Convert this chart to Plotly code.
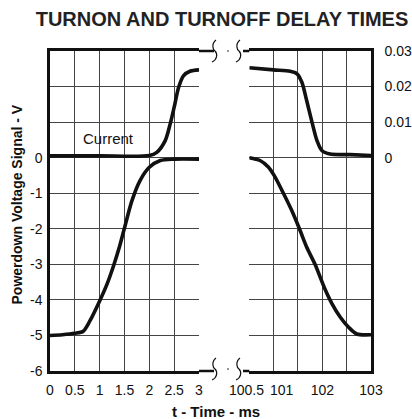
import plotly.graph_objects as go

# Turn-on interval (0 - 3 ms)
t_on = [0, 0.25, 0.5, 0.67, 0.8, 1.0, 1.15, 1.28, 1.4, 1.49, 1.65, 1.81, 2.0, 2.22, 2.5, 3.0]
v_on = [-5.0, -4.98, -4.94, -4.88, -4.6, -4.03, -3.55, -3.04, -2.5, -2.03, -1.21, -0.65, -0.27, -0.08, -0.04, -0.04]
t_on_i = [0, 1.0, 2.0, 2.15, 2.32, 2.42, 2.5, 2.59, 2.69, 2.82, 3.0]
i_on = [0.0005, 0.0005, 0.0006, 0.0015, 0.0048, 0.0095, 0.0142, 0.0198, 0.0231, 0.0243, 0.0247]

# Turn-off interval (100.5 - 103 ms)
t_off = [100.5, 100.72, 100.89, 101.01, 101.2, 101.37, 101.53, 101.68, 101.85, 102.04, 102.2, 102.37, 102.54, 102.71, 103.0]
v_off = [0, -0.08, -0.26, -0.5, -1.0, -1.48, -2.0, -2.52, -3.0, -3.65, -4.11, -4.49, -4.77, -4.96, -4.98]
t_off_i = [100.5, 101.0, 101.34, 101.48, 101.58, 101.68, 101.78, 101.89, 101.99, 102.16, 102.57, 103.0]
i_off = [0.0253, 0.0247, 0.0243, 0.0236, 0.0212, 0.016, 0.0104, 0.0048, 0.002, 0.001, 0.00085, 0.0006]

x1_ticks = [0, 0.5, 1, 1.5, 2, 2.5, 3]
x1_text = ["0", "0.5", "1", "1.5", "2", "2.5", "3"]
x2_ticks = [100.5, 101, 101.5, 102, 102.5, 103]
x2_text = ["", "", "", "102", "", "103"]
# the two crowded labels at the start of the turn-off axis are placed side by side
x2_edge_vals = [100.5, 101]
x2_edge_text = ["100.5", "101"]
v_ticks = [-6, -5, -4, -3, -2, -1, 0, 1, 2, 3]
v_text = ["-6", "-5", "-4", "-3", "-2", "-1", "0", "", "", ""]
i_ticks = [0, 0.01, 0.02, 0.03]
i_text = ["0", "0.01", "0.02", "0.03"]

W, H = 412, 419
ML, MR, MT, MB = 50, 41, 51, 48
PW, PH = W - ML - MR, H - MT - MB

def px(x):
    return (x - ML) / PW

def py(y):
    return (H - MB - y) / PH

FONT = "Liberation Sans, Arial, sans-serif"
INK = "#111111"
GRID = "#444444"
CURVE = dict(color=INK, width=3.6, shape="spline", smoothing=0.8)

fig = go.Figure()
fig.add_trace(go.Scatter(x=t_on, y=v_on, mode="lines", line=CURVE, xaxis="x", yaxis="y"))
fig.add_trace(go.Scatter(x=t_off, y=v_off, mode="lines", line=CURVE, xaxis="x2", yaxis="y"))
fig.add_trace(go.Scatter(x=t_on_i, y=i_on, mode="lines", line=CURVE, xaxis="x", yaxis="y2"))
fig.add_trace(go.Scatter(x=t_off_i, y=i_off, mode="lines", line=CURVE, xaxis="x2", yaxis="y2"))

tickfont = dict(family=FONT, size=14, color=INK)
xcommon = dict(showgrid=True, gridcolor=GRID, gridwidth=1, zeroline=False,
               showline=True, linecolor=INK, linewidth=2.5, mirror=True,
               ticks="", tickfont=tickfont, ticklabelstandoff=4, anchor="y",
               tickangle=0, automargin=False)

fig.update_layout(
    width=W, height=H,
    margin=dict(l=ML, r=MR, t=MT, b=MB, autoexpand=False),
    paper_bgcolor="white", plot_bgcolor="white",
    showlegend=False,
    font=dict(family=FONT, color=INK),
    title=dict(text="<b>TURNON AND TURNOFF DELAY TIMES</b>",
               font=dict(family=FONT, size=20, color="#222222"),
               x=222 / W, xanchor="center", xref="container",
               y=1 - 19 / H, yanchor="middle", yref="container"),
    xaxis=dict(domain=[0, px(199)], range=[0, 3], tickvals=x1_ticks, ticktext=x1_text, **xcommon),
    xaxis2=dict(domain=[px(249.3), 1], range=[100.5, 103], tickvals=x2_ticks, ticktext=x2_text, **xcommon),
    yaxis=dict(range=[-6, 3], tickvals=v_ticks, ticktext=v_text, anchor="x",
               showgrid=True, gridcolor=GRID, gridwidth=1, zeroline=False,
               showline=True, linecolor=INK, linewidth=2.5, mirror=False,
               ticks="", tickfont=tickfont, ticklabelstandoff=2, automargin=False),
    yaxis2=dict(range=[-0.06, 0.03], tickvals=i_ticks, ticktext=i_text, anchor="x2",
                overlaying="y", side="right", showgrid=False, zeroline=False,
                showline=True, linecolor=INK, linewidth=2.5,
                ticks="", tickfont=tickfont, ticklabelstandoff=8, automargin=False),
)

# Side-by-side labels for 100.5 and 101
for val, txt, anchor, shift in zip(x2_edge_vals, x2_edge_text, ["right", "left"], [17, -6]):
    fig.add_annotation(text=txt, xref="x2", yref="paper", x=val, y=py(389.5),
                       xanchor=anchor, yanchor="middle", xshift=shift, showarrow=False,
                       font=tickfont)

# Axis titles and the series label
label = dict(xref="paper", yref="paper", showarrow=False, xanchor="center", yanchor="middle")
fig.add_annotation(text="<b>t - Time - ms</b>", x=px(216), y=py(411),
                   font=dict(family=FONT, size=15, color=INK), **label)
fig.add_annotation(text="<b>Powerdown Voltage Signal - V</b>", x=px(16.5), y=py(205), textangle=-90,
                   font=dict(family=FONT, size=14, color=INK), **label)
fig.add_annotation(text="Current", x=px(108), y=py(138),
                   font=dict(family=FONT, size=15, color=INK), **label)

# Axis break: frame extensions, squiggles and dots
shapes = []
for yy in (51, 371):
    shapes.append(dict(type="line", xref="paper", yref="paper",
                       x0=px(199), x1=px(214), y0=py(yy), y1=py(yy),
                       line=dict(color=INK, width=2.5)))
    shapes.append(dict(type="line", xref="paper", yref="paper",
                       x0=px(243), x1=px(249.3), y0=py(yy), y1=py(yy),
                       line=dict(color=INK, width=2.5)))

def squiggle(cx, cy):
    pts = [(cx + 1, cy - 11), (cx - 4, cy - 7), (cx - 2, cy - 1), (cx + 3, cy + 3), (cx + 2, cy + 9), (cx - 3, cy + 11)]
    p = "M {:.5f},{:.5f}".format(px(pts[0][0]), py(pts[0][1]))
    p += " C {:.5f},{:.5f} {:.5f},{:.5f} {:.5f},{:.5f}".format(
        px(pts[1][0]), py(pts[1][1]), px(pts[2][0]), py(pts[2][1]), px(cx), py(cy))
    p += " C {:.5f},{:.5f} {:.5f},{:.5f} {:.5f},{:.5f}".format(
        px(pts[3][0]), py(pts[3][1]), px(pts[4][0]), py(pts[4][1]), px(pts[5][0]), py(pts[5][1]))
    return p

for yy in (51, 369):
    for cx in (215, 239):
        shapes.append(dict(type="path", xref="paper", yref="paper", path=squiggle(cx, yy),
                           line=dict(color=INK, width=1.2)))
    shapes.append(dict(type="circle", xref="paper", yref="paper",
                       x0=px(227.2), x1=px(228.8), y0=py(yy + 0.8), y1=py(yy - 0.8),
                       fillcolor=INK, line=dict(width=0)))

fig.update_layout(shapes=shapes)

fig.write_html("out.html")
